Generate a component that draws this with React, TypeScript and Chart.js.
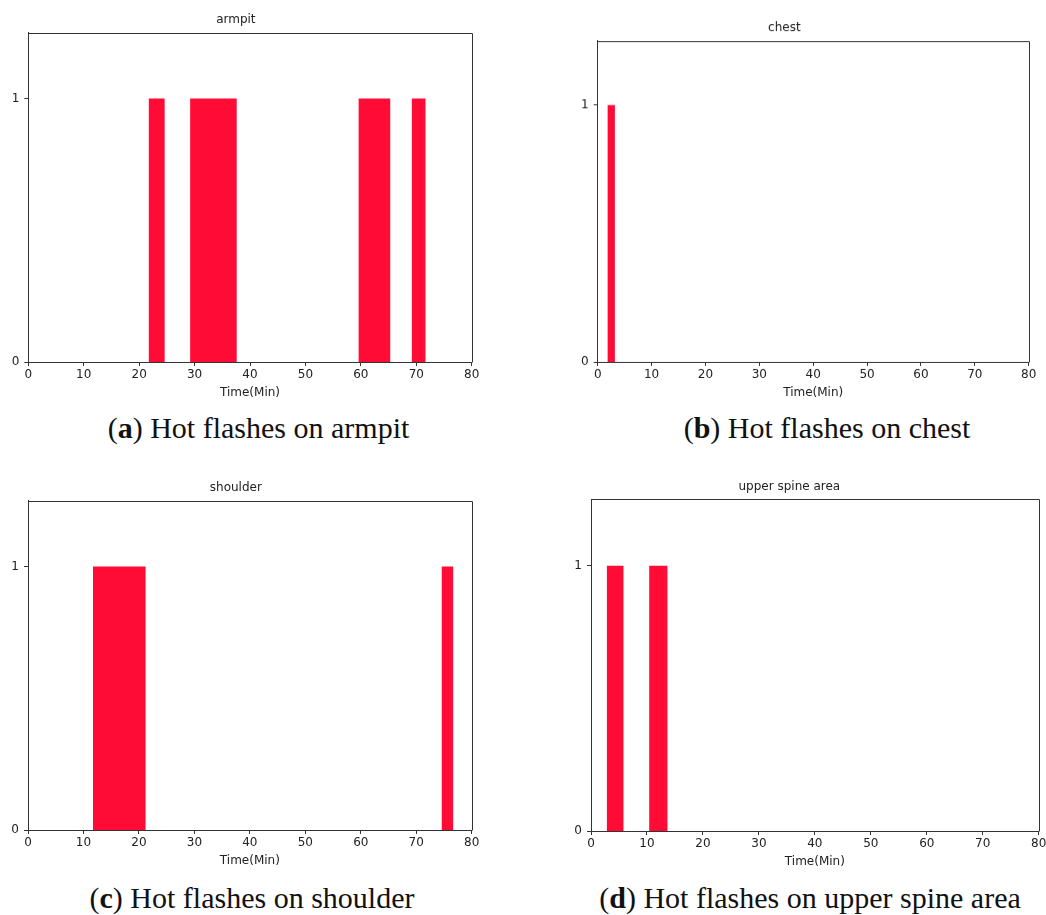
import React, { useEffect, useRef } from "react";
import { Chart, registerables } from "chart.js";

Chart.register(...registerables);

// ---------- data ----------
const X_MIN = 0;
const X_MAX = 80;
const X_STEP = 10;
const Y_MIN = 0;
const Y_MAX = 1.25;
const Y_TICKS = [0, 1];
const FLASH_LEVEL = 1;

const ARMPIT_STARTS = [21.7, 29.2, 59.6, 69.2];
const ARMPIT_ENDS = [24.6, 37.6, 65.3, 71.7];
const CHEST_STARTS = [1.8];
const CHEST_ENDS = [3.2];
const SHOULDER_STARTS = [11.7, 74.6];
const SHOULDER_ENDS = [21.2, 76.7];
const SPINE_STARTS = [2.8, 10.4];
const SPINE_ENDS = [5.8, 13.7];

const TITLES = ["armpit", "chest", "shoulder", "upper spine area"];
const X_LABEL = "Time(Min)";
const CAPTION_LETTERS = ["a", "b", "c", "d"];
const CAPTION_TEXTS = [
  " Hot flashes on armpit",
  " Hot flashes on chest",
  " Hot flashes on shoulder",
  " Hot flashes on upper spine area",
];

// ---------- layout / style ----------
const BAR_COLOR = "#ff0c36";
const AXIS_COLOR = "#333333";
const TEXT_COLOR = "#222222";
const SANS = "'DejaVu Sans', sans-serif";
const X_AXIS_H = 38;

type Geo = { left: number; top: number; width: number; l: number; t: number; r: number; b: number; titleY: number };
const GEOS: Geo[] = [
  { left: 0, top: 0, width: 500, l: 28.3, t: 32.7, r: 471.7, b: 362, titleY: 20 },
  { left: 540, top: 0, width: 520, l: 57.7, t: 40.7, r: 488.7, b: 361.7, titleY: 28 },
  { left: 0, top: 460, width: 500, l: 28, t: 40.7, r: 471.7, b: 370, titleY: 28.3 },
  { left: 540, top: 460, width: 520, l: 51, t: 39.3, r: 498.7, b: 371.3, titleY: 26.7 },
];
const CAPTIONS_POS = [
  { cx: 258.5, top: 413 },
  { cx: 827, top: 413 },
  { cx: 252, top: 883 },
  { cx: 810, top: 883 },
];

const SERIES = [
  { starts: ARMPIT_STARTS, ends: ARMPIT_ENDS },
  { starts: CHEST_STARTS, ends: CHEST_ENDS },
  { starts: SHOULDER_STARTS, ends: SHOULDER_ENDS },
  { starts: SPINE_STARTS, ends: SPINE_ENDS },
];

function intervalPoints(starts: number[], ends: number[]) {
  const pts: { x: number; y: number }[] = [];
  starts.forEach((s, i) => {
    const e = ends[i];
    pts.push({ x: s, y: 0 }, { x: s, y: FLASH_LEVEL }, { x: e, y: FLASH_LEVEL }, { x: e, y: 0 });
  });
  return pts;
}

const framePlugin = {
  id: "frame",
  afterDraw(chart: any) {
    const { ctx, chartArea } = chart;
    const { left, top, right, bottom } = chartArea;
    ctx.save();
    ctx.strokeStyle = AXIS_COLOR;
    ctx.lineWidth = 1;
    const ty = Math.round(top) + 0.5;
    const rx = Math.round(right) + 0.5;
    ctx.beginPath();
    ctx.moveTo(Math.round(left), ty);
    ctx.lineTo(rx, ty);
    ctx.lineTo(rx, Math.round(bottom) + 0.5);
    ctx.stroke();
    ctx.restore();
  },
};

function Panel({ idx }: { idx: number }) {
  const ref = useRef<HTMLCanvasElement | null>(null);
  const g = GEOS[idx];
  const height = g.b + X_AXIS_H;
  useEffect(() => {
    if (!ref.current) return;
    const s = SERIES[idx];
    const chart = new Chart(ref.current, {
      type: "scatter",
      data: {
        datasets: [
          {
            data: intervalPoints(s.starts, s.ends),
            showLine: true,
            fill: "origin",
            backgroundColor: BAR_COLOR,
            borderColor: BAR_COLOR,
            borderWidth: 0,
            pointRadius: 0,
            pointHoverRadius: 0,
            tension: 0,
          } as any,
        ],
      },
      options: {
        animation: false,
        responsive: false,
        events: [],
        layout: { padding: { left: 0, right: g.width - g.r, top: 0, bottom: 0 } },
        plugins: {
          legend: { display: false },
          tooltip: { enabled: false },
          title: {
            display: true,
            text: TITLES[idx],
            color: TEXT_COLOR,
            font: { family: SANS, size: 12, weight: "normal" as any, lineHeight: 1.2 },
            padding: { top: g.titleY - 7.2, bottom: g.t - g.titleY - 7.2 },
          },
        },
        scales: {
          x: {
            type: "linear",
            min: X_MIN,
            max: X_MAX,
            afterFit: (scale: any) => {
              scale.height = X_AXIS_H;
            },
            ticks: {
              stepSize: X_STEP,
              color: TEXT_COLOR,
              font: { family: SANS, size: 12 },
              padding: 2,
              maxRotation: 0,
            },
            grid: { drawOnChartArea: false, drawTicks: true, tickLength: 4, color: AXIS_COLOR },
            border: { display: true, color: AXIS_COLOR, width: 1 },
            title: {
              display: true,
              text: X_LABEL,
              color: TEXT_COLOR,
              font: { family: SANS, size: 12, lineHeight: 1.2 },
              padding: { top: 0, bottom: 0 },
            },
          },
          y: {
            type: "linear",
            min: Y_MIN,
            max: Y_MAX,
            afterFit: (scale: any) => {
              scale.width = g.l;
            },
            afterBuildTicks: (scale: any) => {
              scale.ticks = Y_TICKS.map((v) => ({ value: v }));
            },
            ticks: {
              color: TEXT_COLOR,
              font: { family: SANS, size: 12 },
              padding: 5,
            },
            grid: { drawOnChartArea: false, drawTicks: true, tickLength: 4, color: AXIS_COLOR },
            border: { display: true, color: AXIS_COLOR, width: 1 },
          },
        },
      },
      plugins: [framePlugin],
    });
    return () => chart.destroy();
  }, [idx]);
  return (
    <canvas
      ref={ref}
      width={g.width}
      height={height}
      style={{ position: "absolute", left: g.left, top: g.top, width: g.width, height }}
    />
  );
}

export default function App() {
  return (
    <div
      style={{
        position: "fixed",
        left: 0,
        top: 0,
        width: 1046,
        height: 915,
        overflow: "hidden",
        background: "#ffffff",
      }}
    >
      {GEOS.map((_, i) => (
        <Panel key={i} idx={i} />
      ))}
      {CAPTIONS_POS.map((p, i) => (
        <div
          key={"cap" + i}
          style={{
            position: "absolute",
            left: p.cx,
            top: p.top,
            transform: "translateX(-50%)",
            whiteSpace: "nowrap",
            fontFamily: "'Liberation Serif', serif",
            fontSize: 30,
            lineHeight: 1,
            color: "#111",
          }}
        >
          (<b>{CAPTION_LETTERS[i]}</b>){CAPTION_TEXTS[i]}
        </div>
      ))}
    </div>
  );
}
